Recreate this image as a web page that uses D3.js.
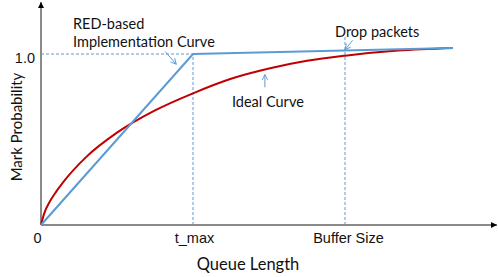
<!DOCTYPE html>
<html>
<head>
<meta charset="utf-8">
<script src="https://cdn.jsdelivr.net/npm/d3@7"></script>
<style>
  body { margin: 0; background: #fff; }
  svg { display: block; font-family: Lato, "Open Sans", sans-serif; }
  .lbl { fill: #111; font-size: 14.5px; }
</style>
</head>
<body>
<svg width="498" height="277"></svg>
<script>
// queue length in units of t_max, probability 0..1
var queueTicks = [0, 1, 2],
    queueLabels = ["0", "t_max", "Buffer Size"],
    probTicks = [1.0],
    probLabels = ["1.0"];

var redQueue = [0, 0.02, 0.06, 0.1, 0.15, 0.3, 0.5, 0.75, 1.0, 1.25, 1.5, 1.75, 2.0, 2.35, 2.71],
    redProb  = [0, 0.065, 0.14, 0.195, 0.255, 0.40, 0.54, 0.67, 0.77, 0.855, 0.915, 0.96, 0.99, 1.02, 1.035];

var blueQueue = [0, 1, 2.71],
    blueProb  = [0, 1, 1.035];

var svg = d3.select("svg"),
    margin = {top: 2, right: 1, bottom: 52, left: 41},
    width = +svg.attr("width") - margin.left - margin.right,
    height = +svg.attr("height") - margin.top - margin.bottom;

var x = d3.scaleLinear().domain([0, 3]).range([margin.left, margin.left + width]),
    y = d3.scaleLinear().domain([0, 1]).range([225, 54]);

var blue = "#5b9bd5", red = "#c00000", axisGrey = "#8a8a8a";

var defs = svg.append("defs");
defs.append("marker")
    .attr("id", "tri")
    .attr("viewBox", "0 0 10 10")
    .attr("refX", 10).attr("refY", 5)
    .attr("markerWidth", 6).attr("markerHeight", 6)
    .attr("markerUnits", "userSpaceOnUse")
    .attr("orient", "auto")
  .append("path")
    .attr("d", "M0,0L10,5L0,10Z")
    .attr("fill", "#000");
defs.append("marker")
    .attr("id", "vee")
    .attr("viewBox", "0 0 10 10")
    .attr("refX", 9).attr("refY", 5)
    .attr("markerWidth", 7).attr("markerHeight", 7)
    .attr("markerUnits", "userSpaceOnUse")
    .attr("orient", "auto")
  .append("path")
    .attr("d", "M1,1L9,5L1,9")
    .attr("fill", "none")
    .attr("stroke", blue)
    .attr("stroke-width", 1.3);

// dashed guides
var guides = [
  [[0, 1], [1, 1]],
  [[1, 0], [1, 1]],
  [[2, 0], [2, 1.1]]
];
svg.selectAll(".guide")
  .data(guides)
  .enter().append("line")
    .attr("class", "guide")
    .attr("x1", function(d) { return x(d[0][0]); })
    .attr("y1", function(d) { return y(d[0][1]); })
    .attr("x2", function(d) { return x(d[1][0]); })
    .attr("y2", function(d) { return y(d[1][1]); })
    .attr("stroke", blue)
    .attr("stroke-width", 1)
    .attr("stroke-dasharray", "3,2");

// axes (labels only, arrows drawn separately)
var xAxis = d3.axisBottom(x)
    .tickValues(queueTicks)
    .tickFormat(function(d, i) { return queueLabels[i]; })
    .tickSize(0).tickPadding(8);
var gx = svg.append("g")
    .attr("transform", "translate(0," + y(0) + ")")
    .call(xAxis);
gx.select(".domain").remove();
gx.selectAll("text")
    .attr("class", "lbl")
    .style("font-size", "14.5px")
    .attr("dx", function(d) { return d === 0 ? "-4" : d === 2 ? "3" : "1"; });

var yAxis = d3.axisLeft(y)
    .tickValues(probTicks)
    .tickFormat(function(d, i) { return probLabels[i]; })
    .tickSize(0).tickPadding(6);
var gy = svg.append("g")
    .attr("transform", "translate(" + x(0) + ",0)")
    .call(yAxis);
gy.select(".domain").remove();
gy.selectAll("text")
    .attr("class", "lbl")
    .style("font-size", "14.5px")
    .attr("dy", "0.6em");

svg.append("line")
    .attr("x1", x(0)).attr("y1", y(0))
    .attr("x2", x(3)).attr("y2", y(0))
    .attr("stroke", axisGrey).attr("stroke-width", 2)
    .attr("marker-end", "url(#tri)");
svg.append("line")
    .attr("x1", x(0)).attr("y1", y(0))
    .attr("x2", x(0)).attr("y2", margin.top)
    .attr("stroke", axisGrey).attr("stroke-width", 2)
    .attr("marker-end", "url(#tri)");

// curves
var line = d3.line()
    .x(function(d) { return x(d[0]); })
    .y(function(d) { return y(d[1]); });

svg.append("path")
    .datum(d3.zip(redQueue, redProb))
    .attr("fill", "none")
    .attr("stroke", red)
    .attr("stroke-width", 2)
    .attr("d", line.curve(d3.curveMonotoneX));

svg.append("path")
    .datum(d3.zip(blueQueue, blueProb))
    .attr("fill", "none")
    .attr("stroke", blue)
    .attr("stroke-width", 2)
    .attr("d", line.curve(d3.curveLinear));

// annotation arrows, in data units
var notes = [
  [[0.817, 1.014], [0.89, 0.94]],
  [[2.05, 1.08], [2.0, 1.025]],
  [[1.473, 0.805], [1.473, 0.88]]
];
svg.selectAll(".note")
  .data(notes)
  .enter().append("line")
    .attr("class", "note")
    .attr("x1", function(d) { return x(d[0][0]); })
    .attr("y1", function(d) { return y(d[0][1]); })
    .attr("x2", function(d) { return x(d[1][0]); })
    .attr("y2", function(d) { return y(d[1][1]); })
    .attr("stroke", blue)
    .attr("stroke-width", 1)
    .attr("marker-end", "url(#vee)");

// text labels
function label(t, px, py, anchor) {
  svg.append("text")
      .attr("class", "lbl")
      .attr("x", px).attr("y", py)
      .attr("text-anchor", anchor || "start")
      .text(t);
}
label("RED-based", 73, 29);
label("Implementation Curve", 73, 47);
label("Drop packets", 335, 37);
label("Ideal Curve", 232, 107);

svg.append("text")
    .attr("class", "lbl")
    .style("font-size", "16.5px")
    .attr("x", 248).attr("y", 270)
    .attr("text-anchor", "middle")
    .text("Queue Length");

svg.append("text")
    .attr("class", "lbl")
    .style("font-size", "15px")
    .attr("transform", "translate(22,127) rotate(-90)")
    .attr("text-anchor", "middle")
    .text("Mark Probability");
</script>
</body>
</html>
